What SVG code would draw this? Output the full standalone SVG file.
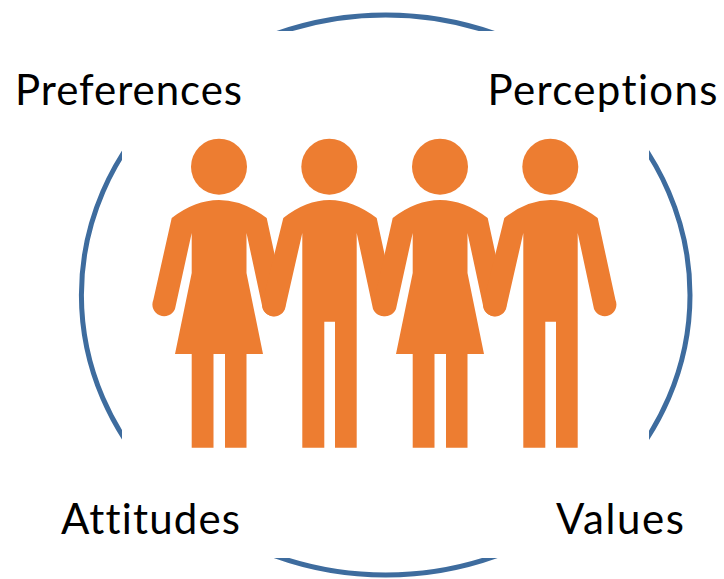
<svg xmlns="http://www.w3.org/2000/svg" width="724" height="579" viewBox="0 0 724 579">
<style>
.arc{fill:none;stroke:#3e6c9e;stroke-width:5}
.p{fill:#ed7d31}
.t{font-family:Lato,"Open Sans",sans-serif;font-size:42px;fill:#000;font-variant-ligatures:none}
</style>
<defs>
<clipPath id="gaps"><path d="M0 0H122V579H0ZM649 0H724V579H649ZM122 0H649V31H122ZM122 558H649V579H122Z"/></clipPath>
<g id="woman"><circle class="p" cx="219" cy="166.700" r="28"/>
<path class="p" d="M171.700 218Q195 200 219 200Q243 200 266.700 218L284.500 300A11 11 0 0 1 262.800 309L246.500 233V273L263 354H246.500V447.700H225V354H213.500V447.700H191.700V354H175L191.700 273V233L175 309A11 11 0 0 1 153.300 300Z"/></g>
<g id="man"><circle class="p" cx="329.300" cy="166.700" r="28"/>
<path class="p" d="M283.300 218Q306 200 329.500 200Q353 200 376.700 218L394.500 300A11 11 0 0 1 373 309L356.700 233V447.700H335V321.700H324.300V447.700H302.300V233L285 309A11 11 0 0 1 263 300Z"/></g>
</defs>
<rect width="724" height="579" fill="#fff"/>
<g id="connectors">
<ellipse class="arc" cx="385.700" cy="295" rx="304.300" ry="280" clip-path="url(#gaps)"/>
</g>
<g id="people">
<use href="#woman"/><use href="#man"/>
<use href="#woman" x="221"/><use href="#man" x="221"/>
</g>
<g id="preferences"><text class="t" x="15" y="105" textLength="227">Preferences</text></g>
<g id="perceptions"><text class="t" x="487.500" y="105" textLength="230">Perceptions</text></g>
<g id="attitudes"><text class="t" x="61" y="534" textLength="179">Attitudes</text></g>
<g id="values"><text class="t" x="556" y="534" textLength="128">Values</text></g>
</svg>
